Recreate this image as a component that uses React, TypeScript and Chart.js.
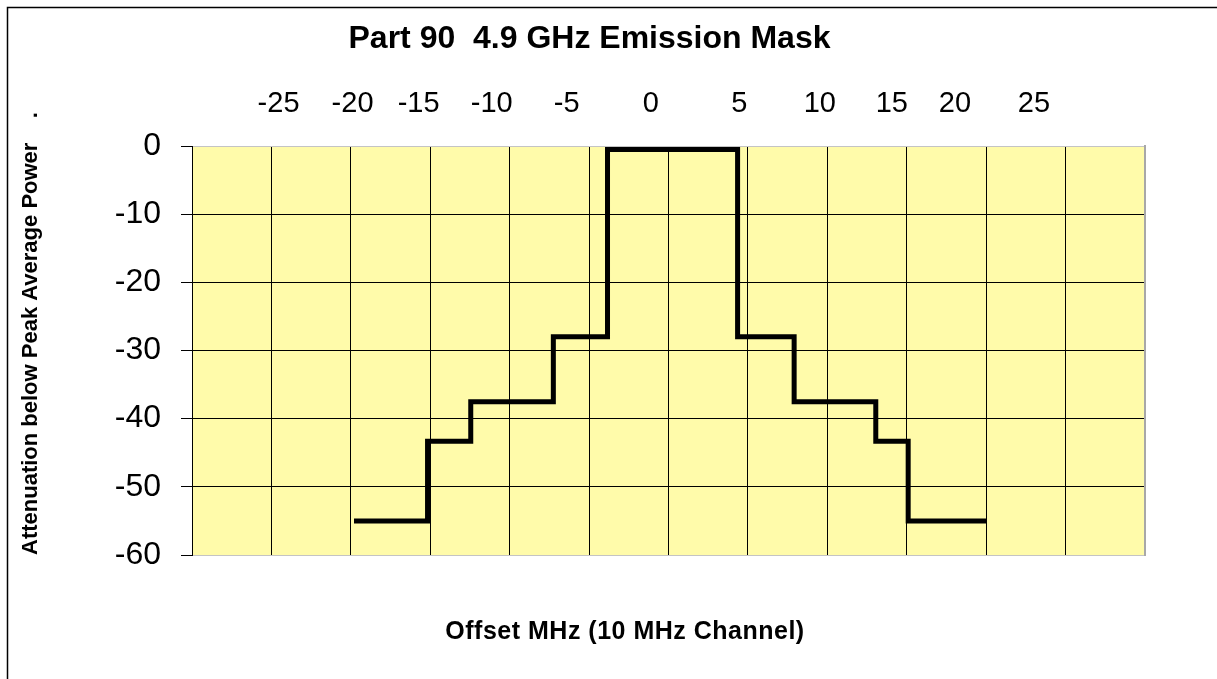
import React, { useEffect, useRef } from 'react';
import { Chart, registerables } from 'chart.js';

Chart.register(...registerables);

const FONT = 'Arial, "Liberation Sans", sans-serif';

const TITLE = 'Part 90  4.9 GHz Emission Mask';
const X_TITLE = 'Offset MHz (10 MHz Channel)';
const Y_TITLE = 'Attenuation below Peak Average Power    .';

// Emission mask breakpoints (drawn as a step line: horizontal first, then vertical)
const OFFSET_MHZ = [-19.8, -15.17, -12.45, -7.25, -3.84, 4.35, 7.91, 13.05, 15.09, 20.03];
const ATTEN_DB = [-55, -43.3, -37.5, -28, -0.5, -28, -37.5, -43.3, -55, -55];

// Labels written along the top of the plot, and where they sit (MHz)
const TOP_LABELS = ['-25', '-20', '-15', '-10', '-5', '0', '5', '10', '15', '20', '25'];
const TOP_LABEL_AT = [-24.55, -19.89, -15.73, -11.13, -6.41, -1.12, 4.46, 9.53, 14.06, 18.03, 23.01];

const X_MIN = -30;
const X_MAX = 30;
const X_STEP = 5;
const Y_MIN = -60;
const Y_MAX = 0;
const Y_STEP = 10;

const PLOT_BG = '#FFFBAA';
const GRID = '#000000';
const EDGE = '#C4C4C4';

const innerOnly = (min: number, max: number, color: string) => (ctx: any) =>
  ctx.tick && (ctx.tick.value === min || ctx.tick.value === max) ? 'rgba(0,0,0,0)' : color;

const decorPlugin = {
  id: 'decor',
  beforeDraw(chart: any) {
    const { ctx, chartArea } = chart;
    ctx.save();
    ctx.fillStyle = PLOT_BG;
    ctx.fillRect(chartArea.left, chartArea.top, chartArea.right - chartArea.left, chartArea.bottom - chartArea.top);
    ctx.strokeStyle = '#000';
    ctx.lineWidth = 1.5;
    ctx.beginPath();
    ctx.moveTo(7.5, chart.height);
    ctx.lineTo(7.5, 7.5);
    ctx.lineTo(chart.width, 7.5);
    ctx.stroke();
    ctx.restore();
  },
  afterDraw(chart: any) {
    const { ctx, chartArea } = chart;
    ctx.save();
    ctx.font = 'bold 25px ' + FONT;
    (ctx as any).letterSpacing = '0.5px';
    ctx.fillStyle = '#000';
    ctx.textAlign = 'center';
    ctx.textBaseline = 'middle';
    ctx.fillText(X_TITLE, chartArea.left + 433, chartArea.bottom + 77);
    ctx.restore();
  },
};

export default function App() {
  const ref = useRef<HTMLCanvasElement | null>(null);

  useEffect(() => {
    if (!ref.current) return;
    const chart = new Chart(ref.current, {
      type: 'line',
      data: {
        datasets: [
          {
            label: 'Mask',
            data: OFFSET_MHZ.map((x, i) => ({ x, y: ATTEN_DB[i] })),
            borderColor: '#000',
            borderWidth: 5,
            pointRadius: 0,
            stepped: 'before',
            fill: false,
            borderJoinStyle: 'miter',
            borderCapStyle: 'butt',
            xAxisID: 'x',
            yAxisID: 'y',
          } as any,
        ],
      },
      options: {
        responsive: false,
        animation: false,
        devicePixelRatio: 1,
        layout: { padding: { left: 0, top: 0, right: 38, bottom: 0 } },
        plugins: {
          legend: { display: false },
          tooltip: { enabled: false },
          title: {
            display: true,
            text: TITLE,
            color: '#000',
            font: { size: 32, weight: 'bold', family: FONT },
            padding: { top: 20, bottom: 0 },
          },
        },
        scales: {
          x: {
            type: 'linear',
            position: 'bottom',
            min: X_MIN,
            max: X_MAX,
            ticks: { display: false, stepSize: X_STEP },
            grid: { color: innerOnly(X_MIN, X_MAX, GRID), lineWidth: 1, drawTicks: false },
            border: { display: true, color: EDGE, width: 1 },
            afterFit: (s: any) => {
              s.height = 124;
            },
          },
          x2: {
            type: 'linear',
            position: 'top',
            min: X_MIN,
            max: X_MAX,
            grid: { display: false, drawTicks: false },
            border: { display: true, color: EDGE, width: 1 },
            ticks: {
              autoSkip: false,
              maxRotation: 0,
              padding: 24.5,
              color: '#000',
              font: { size: 29, family: FONT },
              callback: (_v: any, i: number) => TOP_LABELS[i],
            },
            afterBuildTicks: (s: any) => {
              s.ticks = TOP_LABEL_AT.map((v) => ({ value: v }));
            },
            afterFit: (s: any) => {
              s.height = 146 - 58.4;
            },
          },
          y: {
            type: 'linear',
            position: 'left',
            min: Y_MIN,
            max: Y_MAX,
            ticks: { stepSize: Y_STEP, padding: 20, color: '#000', font: { size: 32, family: FONT } },
            grid: { color: innerOnly(Y_MIN, Y_MAX, GRID), tickColor: '#000', tickLength: 11, lineWidth: 1 },
            border: { display: true, color: '#000', width: 1 },
            title: {
              display: true,
              text: Y_TITLE,
              align: 'start',
              color: '#000',
              font: { size: 22, weight: 'bold', family: FONT },
              padding: { top: 18, bottom: 0 },
            },
            afterFit: (s: any) => {
              s.width = 192;
            },
          },
          y2: {
            type: 'linear',
            position: 'right',
            min: Y_MIN,
            max: Y_MAX,
            ticks: { display: false },
            grid: { display: false, drawTicks: false },
            border: { display: true, color: '#A8A8A8', width: 2 },
            afterFit: (s: any) => {
              s.width = 34;
            },
          },
        },
      } as any,
      plugins: [decorPlugin],
    });
    return () => chart.destroy();
  }, []);

  return (
    <canvas
      ref={ref}
      width={1217}
      height={679}
      style={{ position: 'fixed', left: 0, top: 0, display: 'block' }}
    />
  );
}
